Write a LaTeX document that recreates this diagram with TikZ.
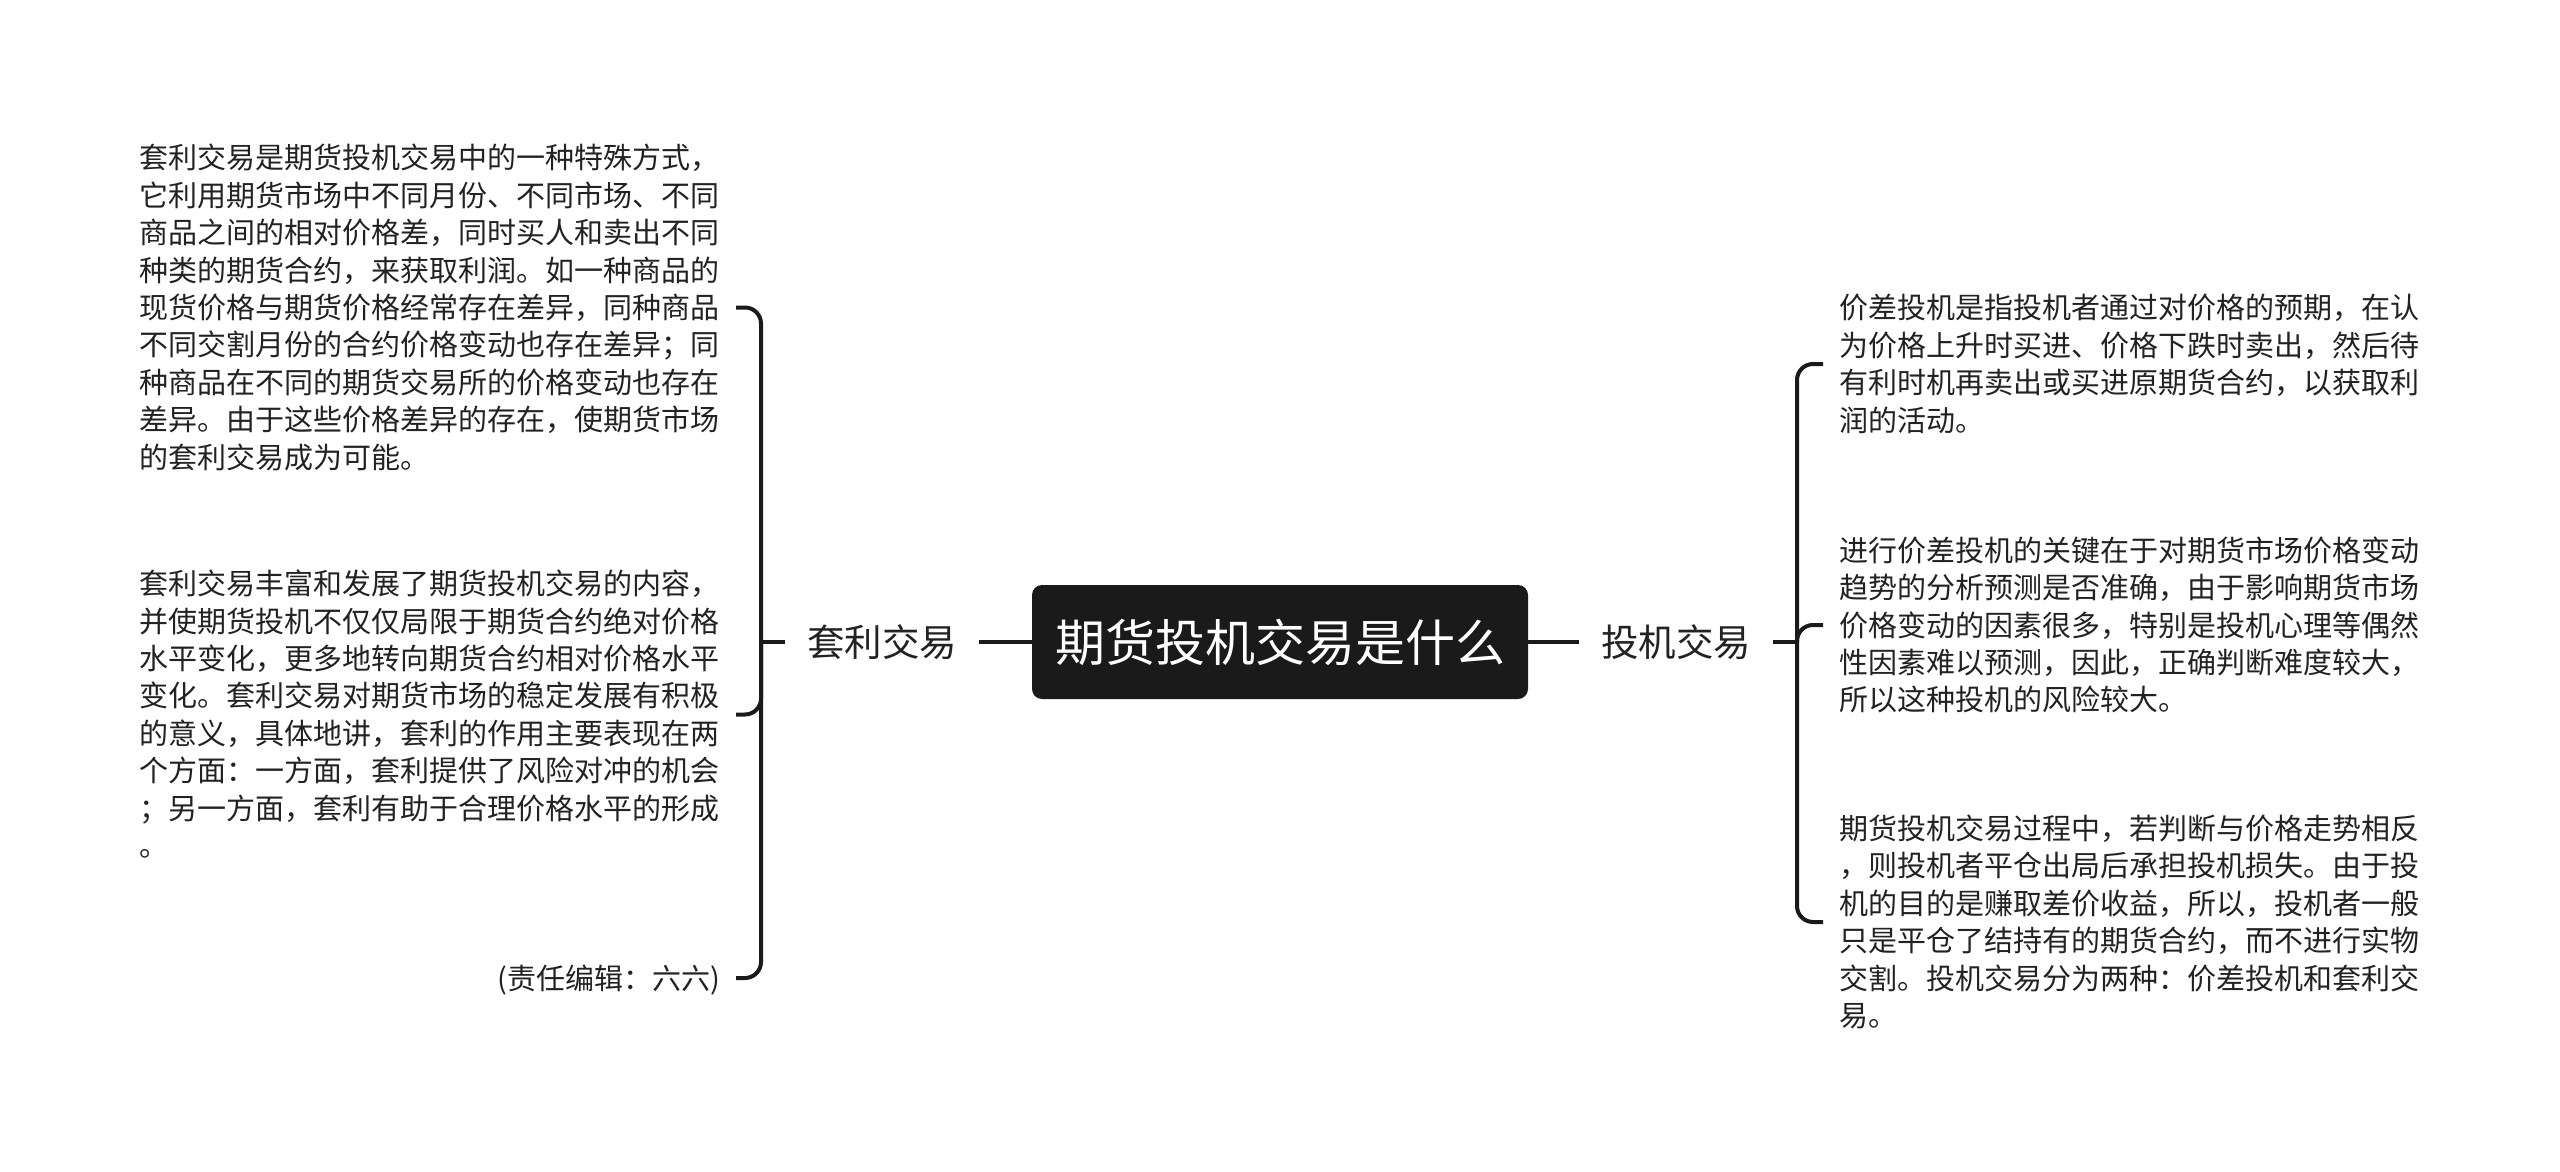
\documentclass[tikz,border=0pt]{standalone}
\usepackage{fontspec}
\setmainfont{Noto Sans CJK SC}
\newcommand\zs{\rule[-6pt]{0pt}{34pt}}
\definecolor{inkc}{HTML}{1A1A1A}
\definecolor{txtc}{HTML}{222222}
\begin{document}
\begin{tikzpicture}[x=1pt,y=-1pt,
  conn/.style={draw=inkc,line width=4pt},
  brk/.style={conn,rounded corners=16pt},
  rootbox/.style={fill=inkc,rounded corners=10pt,text=white,minimum width=496pt,minimum height=114pt,inner sep=0pt,font={\fontsize{50}{60}\selectfont}},
  lab/.style={text=txtc,inner xsep=22pt,inner ysep=0pt,font={\fontsize{37.5}{45}\selectfont}},
  leafl/.style={text=txtc,align=left,inner xsep=16pt,inner ysep=0pt,anchor=east,font={\fontsize{29}{37.4}\selectfont}},
  leafr/.style={text=txtc,align=left,inner xsep=16pt,inner ysep=0pt,anchor=west,font={\fontsize{29}{37.4}\selectfont}}
]
\useasboundingbox[fill=white] (0,0) rectangle (2560,1172);

\node[rootbox] (root) at (1280,642) {期货投机交易是什么};
\node[lab] (la) at (882,642) {套利交易};
\node[lab] (lb) at (1676,642) {投机交易};

\coordinate (ja) at (761,642);
\coordinate (jb) at (1797,642);

\node[leafl] (a1) at (736,307.5) {\zs 套利交易是期货投机交易中的一种特殊方式，\\
它利用期货市场中不同月份、不同市场、不同\\
商品之间的相对价格差，同时买人和卖出不同\\
种类的期货合约，来获取利润。如一种商品的\\
现货价格与期货价格经常存在差异，同种商品\\
不同交割月份的合约价格变动也存在差异；同\\
种商品在不同的期货交易所的价格变动也存在\\
差异。由于这些价格差异的存在，使期货市场\\
\zs 的套利交易成为可能。};

\node[leafl] (a2) at (736,714.5) {\zs 套利交易丰富和发展了期货投机交易的内容，\\
并使期货投机不仅仅局限于期货合约绝对价格\\
水平变化，更多地转向期货合约相对价格水平\\
变化。套利交易对期货市场的稳定发展有积极\\
的意义，具体地讲，套利的作用主要表现在两\\
个方面：一方面，套利提供了风险对冲的机会\\
；另一方面，套利有助于合理价格水平的形成\\
\zs 。};

\node[leafl] (a3) at (736,978) {\zs(责任编辑：六六)};

\node[leafr] (b1) at (1823,364) {\zs 价差投机是指投机者通过对价格的预期，在认\\
为价格上升时买进、价格下跌时卖出，然后待\\
有利时机再卖出或买进原期货合约，以获取利\\
\zs 润的活动。};

\node[leafr] (b2) at (1823,625) {\zs 进行价差投机的关键在于对期货市场价格变动\\
趋势的分析预测是否准确，由于影响期货市场\\
价格变动的因素很多，特别是投机心理等偶然\\
性因素难以预测，因此，正确判断难度较大，\\
\zs 所以这种投机的风险较大。};

\node[leafr] (b3) at (1823,922) {\zs 期货投机交易过程中，若判断与价格走势相反\\
，则投机者平仓出局后承担投机损失。由于投\\
机的目的是赚取差价收益，所以，投机者一般\\
只是平仓了结持有的期货合约，而不进行实物\\
交割。投机交易分为两种：价差投机和套利交\\
\zs 易。};

\draw[conn] (root.west) -- (la.east);
\draw[conn] (root.east) -- (lb.west);
\draw[conn] (la.west) -- (ja);
\draw[conn] (lb.east) -- (jb);

\draw[brk] (ja) |- (a1.east);
\draw[brk] (ja) |- (a2.east);
\draw[brk] (ja) |- (a3.east);
\draw[brk] (jb) |- (b1.west);
\draw[brk] (jb) |- (b2.west);
\draw[brk] (jb) |- (b3.west);
\end{tikzpicture}
\end{document}
